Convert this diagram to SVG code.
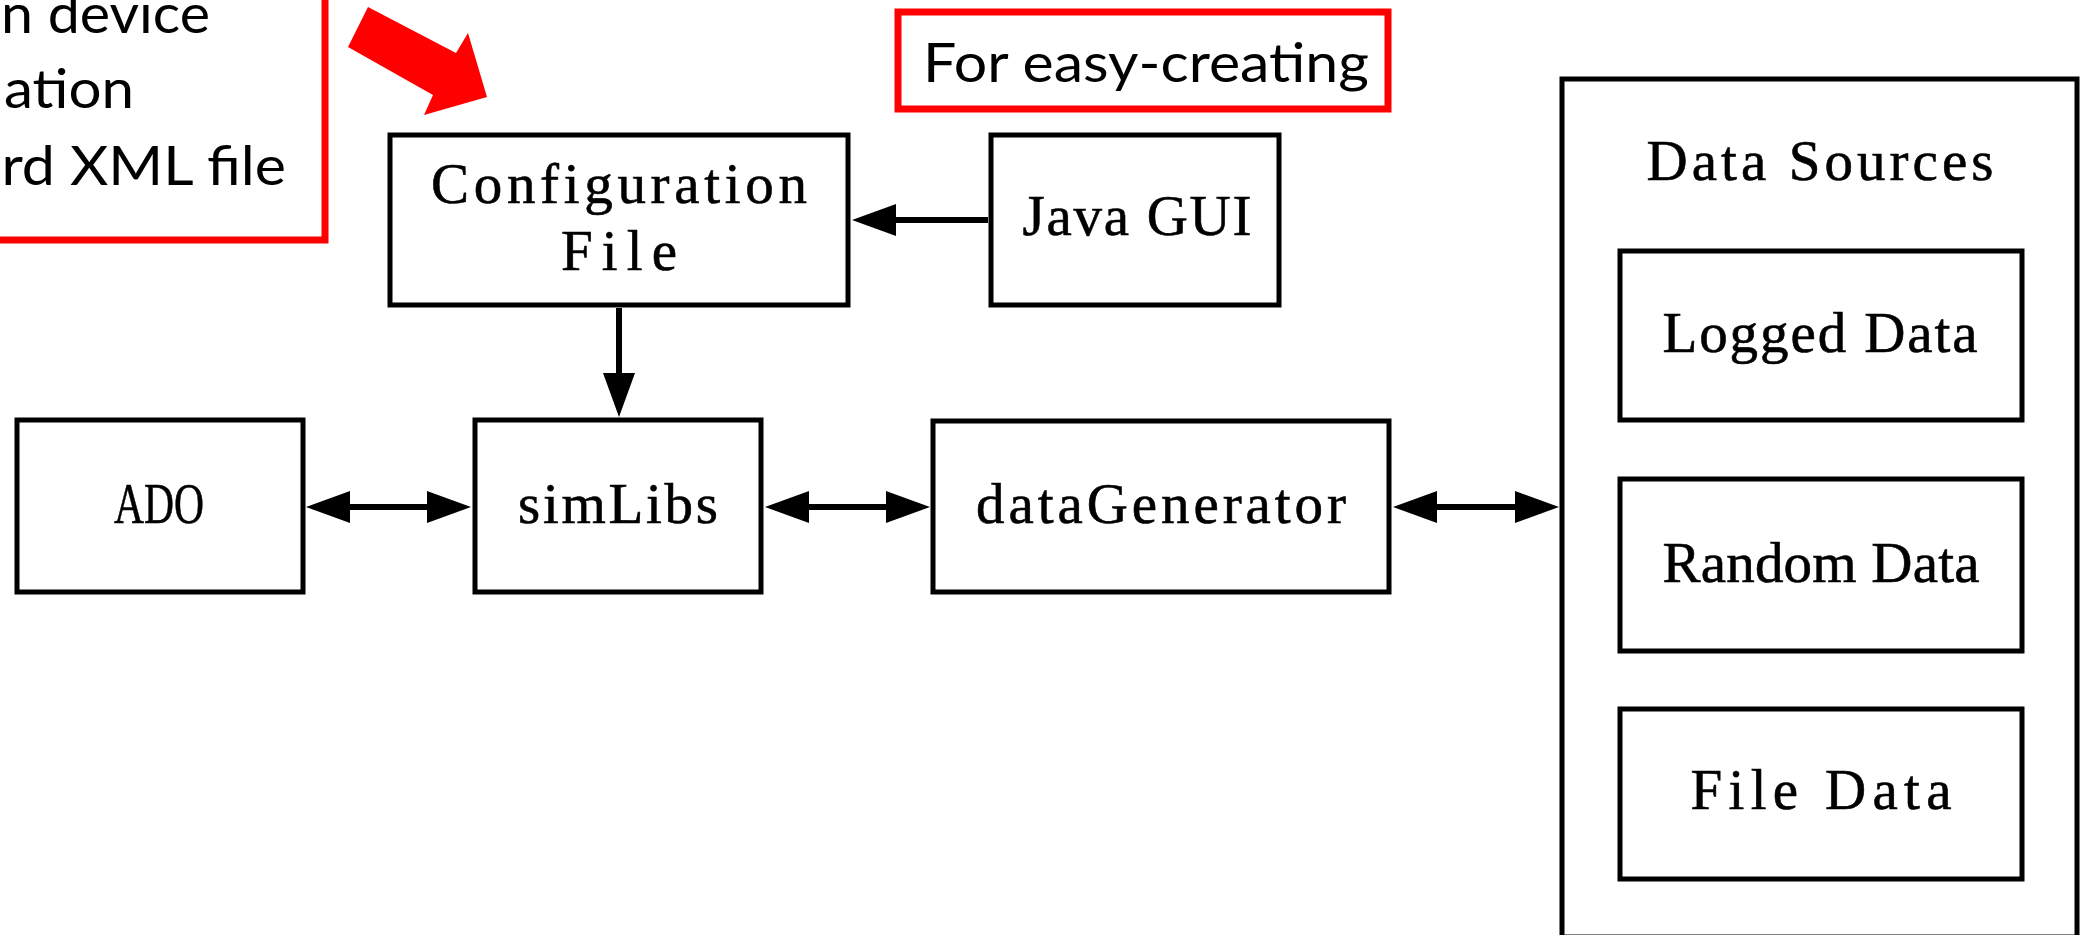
<svg xmlns="http://www.w3.org/2000/svg" width="2087" height="935" viewBox="0 0 2087 935">
  <style>
    .box { fill: #ffffff; stroke: #000000; stroke-width: 5; }
    .note { fill: none; stroke: #ff0000; stroke-width: 7; }
    .link { stroke: #000000; stroke-width: 6; fill: none; }
    .lbl { font-family: "Liberation Serif", "DejaVu Serif", serif; font-size: 57px; fill: #000000; text-anchor: middle; stroke: #000000; stroke-width: 0.6; }
    .ntxt { font-family: Lato, "Open Sans", "Liberation Sans", sans-serif; font-size: 55px; fill: #000000; }
  </style>
  <defs>
    <marker id="head" viewBox="0 -16 44 32" refX="1" refY="0" markerWidth="44" markerHeight="32" markerUnits="userSpaceOnUse" orient="auto-start-reverse">
      <path d="M0,-16 L44,0 L0,16 Z" fill="#000000"/>
    </marker>
  </defs>
  <rect width="2087" height="935" fill="#ffffff"/>

  <!-- annotation: device configuration note (partly off the left edge) -->
  <g id="note-config">
    <rect class="note" x="-20" y="-20" width="345" height="260"/>
    <text class="ntxt" x="210" y="33" text-anchor="end" textLength="209" lengthAdjust="spacingAndGlyphs">n device</text>
    <text class="ntxt" x="134" y="108" text-anchor="end" textLength="130" lengthAdjust="spacingAndGlyphs">ation</text>
    <text class="ntxt" x="286" y="185" text-anchor="end" textLength="314" lengthAdjust="spacingAndGlyphs">ard XML file</text>
  </g>

  <!-- big red pointer towards the configuration file -->
  <g id="pointer">
    <polygon points="368,7 456,53 468,33 487,97 424,115 433,95 348,47" fill="#ff0000"/>
  </g>

  <!-- annotation: GUI note -->
  <g id="note-gui">
    <rect class="note" x="898" y="12" width="490" height="97"/>
    <text class="ntxt" x="923" y="82" textLength="446" lengthAdjust="spacingAndGlyphs">For easy-creating</text>
  </g>

  <g id="config-file">
    <rect class="box" x="390" y="135" width="458" height="170"/>
    <text class="lbl" x="619" y="203" textLength="376" lengthAdjust="spacing">Configuration</text>
    <text class="lbl" x="619" y="270" textLength="116" lengthAdjust="spacing">File</text>
  </g>

  <g id="java-gui">
    <rect class="box" x="991" y="135" width="288" height="170"/>
    <text class="lbl" x="1137" y="235" textLength="229" lengthAdjust="spacing">Java GUI</text>
  </g>

  <g id="ado">
    <rect class="box" x="17" y="420" width="286" height="172"/>
    <text class="lbl" x="159" y="523" textLength="90" lengthAdjust="spacingAndGlyphs">ADO</text>
  </g>

  <g id="simlibs">
    <rect class="box" x="475" y="420" width="286" height="172"/>
    <text class="lbl" x="618" y="523" textLength="200" lengthAdjust="spacing">simLibs</text>
  </g>

  <g id="data-generator">
    <rect class="box" x="933" y="421" width="456" height="171"/>
    <text class="lbl" x="1161" y="523" textLength="370" lengthAdjust="spacing">dataGenerator</text>
  </g>

  <g id="data-sources">
    <rect class="box" x="1562" y="79" width="515" height="858"/>
    <text class="lbl" x="1820" y="180" textLength="347" lengthAdjust="spacing">Data Sources</text>
  </g>

  <g id="logged-data">
    <rect class="box" x="1620" y="251" width="402" height="169"/>
    <text class="lbl" x="1820" y="352" textLength="315" lengthAdjust="spacing">Logged Data</text>
  </g>

  <g id="random-data">
    <rect class="box" x="1620" y="479" width="402" height="172"/>
    <text class="lbl" x="1821" y="582" textLength="317" lengthAdjust="spacing">Random Data</text>
  </g>

  <g id="file-data">
    <rect class="box" x="1620" y="709" width="402" height="170"/>
    <text class="lbl" x="1821" y="809" textLength="261" lengthAdjust="spacing">File Data</text>
  </g>

  <!-- connectors -->
  <g id="connectors">
    <line class="link" x1="988" y1="220" x2="895" y2="220" marker-end="url(#head)"/>
    <line class="link" x1="619" y1="308" x2="619" y2="374" marker-end="url(#head)"/>
    <line class="link" x1="349" y1="507" x2="428" y2="507" marker-start="url(#head)" marker-end="url(#head)"/>
    <line class="link" x1="808" y1="507" x2="887" y2="507" marker-start="url(#head)" marker-end="url(#head)"/>
    <line class="link" x1="1436" y1="507" x2="1516" y2="507" marker-start="url(#head)" marker-end="url(#head)"/>
  </g>
</svg>
